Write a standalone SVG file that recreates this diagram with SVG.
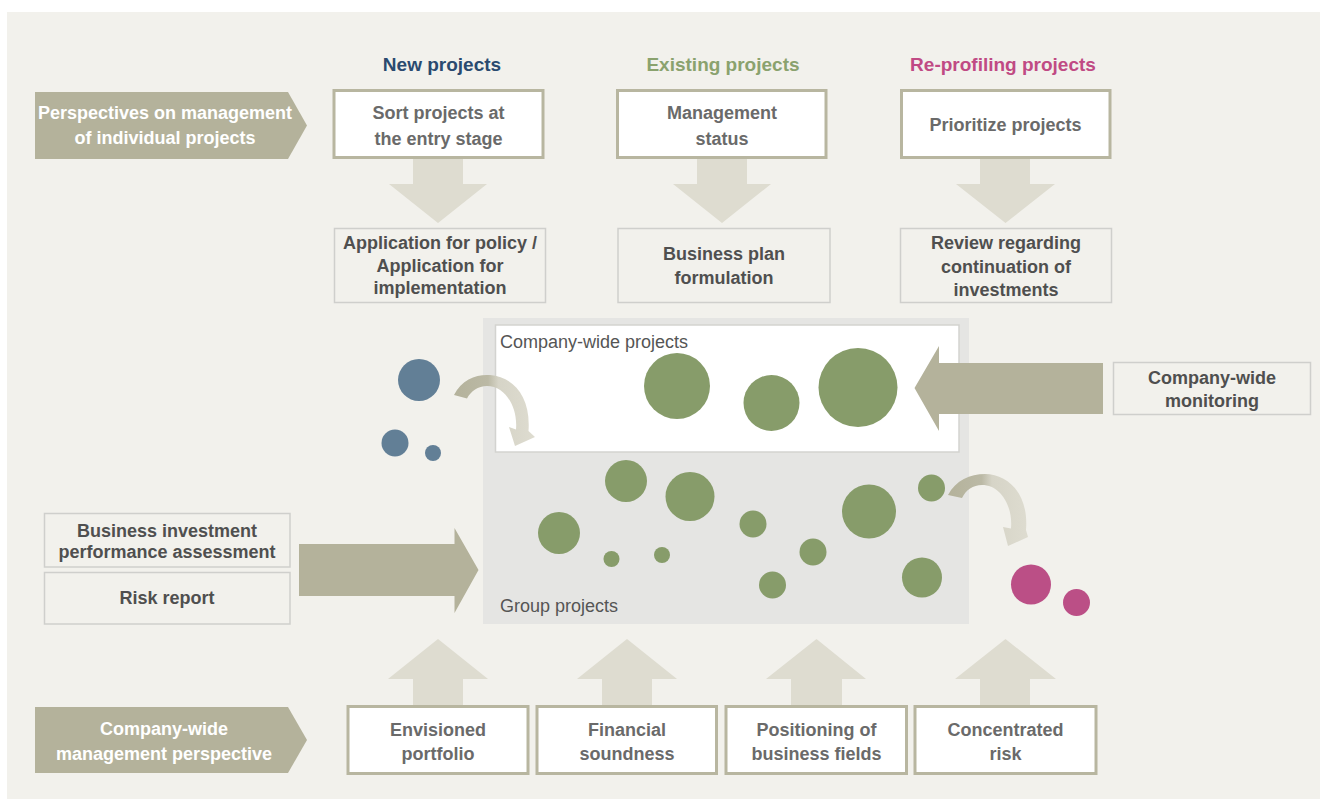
<svg xmlns="http://www.w3.org/2000/svg" width="1320" height="799" viewBox="0 0 1320 799">
<style>
text{font-family:"Liberation Sans",Arial,sans-serif;font-size:18px;font-weight:bold;text-anchor:middle}
.hd{font-size:19px}
.bn{fill:#ffffff}
.tk{fill:#6a6a6a}
.tn{fill:#4f4f4f}
.rg{font-weight:normal;text-anchor:start;fill:#555555}
.thick{fill:#ffffff;stroke:#b8b6a0;stroke-width:3}
.thin{fill:none;stroke:#cfcfcc;stroke-width:1.5}
.banner{fill:#b4b29b}
.la{fill:#dedcd0}
.da{fill:#b4b29b}
.cv{fill:url(#cg)}
.g{fill:#879c6a}
.b{fill:#627f96}
.m{fill:#bb4f86}
</style>
<defs>
<linearGradient id="cg" x1="0" y1="0" x2="1" y2="0">
<stop offset="0" stop-color="#b4b29b"/>
<stop offset="0.42" stop-color="#bbb9a5"/>
<stop offset="0.55" stop-color="#d6d4c7"/>
<stop offset="1" stop-color="#dedcd0"/>
</linearGradient>
</defs>
<rect x="0" y="0" width="1320" height="799" fill="#ffffff"/>
<rect x="7" y="12" width="1313" height="787" fill="#f2f1ec"/>

<!-- panel -->
<g id="group-panel">
<rect x="483" y="318" width="486" height="306" fill="#e5e5e3"/>
<text class="rg" x="500" y="612">Group projects</text>
</g>
<g id="company-panel">
<rect x="495.5" y="325" width="463.5" height="127" fill="#ffffff" stroke="#d3d3d0" stroke-width="1.5"/>
<text class="rg" x="500" y="348">Company-wide projects</text>
</g>

<!-- connectors -->
<g id="connectors">
<polygon class="la" points="413,159 463,159 463,184 487,184 438,223 389,184 413,184"/>
<polygon class="la" points="697,159 747,159 747,184 771,184 722,223 673,184 697,184"/>
<polygon class="la" points="980,159 1030,159 1030,184 1055,184 1005.5,223 956,184 980,184"/>
<polygon class="la" points="413,705 413,679 388,679 438,639 488,679 463,679 463,705"/>
<polygon class="la" points="602,705 602,679 577,679 627,639 677,679 652,679 652,705"/>
<polygon class="la" points="791,705 791,679 766,679 816.5,639 866,679 842,679 842,705"/>
<polygon class="la" points="980,705 980,679 955,679 1005.5,639 1056,679 1030,679 1030,705"/>
<polygon class="da" points="299,544 454.5,544 454.5,528 478.5,570 454.5,613 454.5,596 299,596"/>
<polygon class="da" points="1103,363 939,363 939,346 914.5,388 939,431 939,414 1103,414"/>
<path class="cv" d="M 454 395 C 462 379, 477 374, 490 375 C 513 377, 531 396, 528.5 431 L 535 437 L 515 446 L 509 427 L 516 429.5 C 518 407, 505 386, 487 386 C 478 386, 471 391, 467 398.5 Z"/>
<path class="cv" d="M 948 495 C 956 480, 970 474, 985 474 C 1008 474, 1029 494, 1026 530 L 1028 537 L 1008 546 L 1003 527 L 1011 528.5 C 1013 505, 1000 485, 982 485 C 973 485, 966 490, 962 498 Z"/>
</g>

<!-- circles -->
<g id="blue-projects">
<circle class="b" cx="419" cy="380" r="21"/>
<circle class="b" cx="395" cy="443" r="13.5"/>
<circle class="b" cx="433" cy="453" r="8"/>
</g>
<g id="company-circles">
<circle class="g" cx="677" cy="386" r="33"/>
<circle class="g" cx="771.5" cy="403" r="28"/>
<circle class="g" cx="858" cy="387.5" r="39.5"/>
</g>
<g id="group-circles">
<circle class="g" cx="626" cy="481" r="21"/>
<circle class="g" cx="559" cy="533" r="21"/>
<circle class="g" cx="611.5" cy="559" r="8"/>
<circle class="g" cx="662" cy="555" r="8"/>
<circle class="g" cx="690" cy="496.5" r="24.5"/>
<circle class="g" cx="753" cy="524" r="13.5"/>
<circle class="g" cx="869" cy="511.5" r="27"/>
<circle class="g" cx="931.5" cy="488" r="13.5"/>
<circle class="g" cx="813" cy="552" r="13.5"/>
<circle class="g" cx="772.5" cy="585" r="13.5"/>
<circle class="g" cx="922" cy="577.5" r="20"/>
</g>
<g id="reprofiling-circles">
<circle class="m" cx="1031" cy="584.5" r="20"/>
<circle class="m" cx="1076.5" cy="602.5" r="13.5"/>
</g>

<!-- headers -->
<g id="hdr-new"><text class="hd" x="442" y="71" fill="#2a4a6f">New projects</text></g>
<g id="hdr-existing"><text class="hd" x="723" y="71" fill="#8aa26e">Existing projects</text></g>
<g id="hdr-reprofiling"><text class="hd" x="1003" y="71" fill="#c04a84">Re-profiling projects</text></g>

<!-- banners -->
<g id="banner-individual">
<polygon class="banner" points="35,92 288,92 307,125.5 288,159 35,159"/>
<text class="bn" x="165" y="119">Perspectives on management</text>
<text class="bn" x="165" y="144">of individual projects</text>
</g>
<g id="banner-companywide">
<polygon class="banner" points="35,707 288,707 307,740 288,773 35,773"/>
<text class="bn" x="164" y="735">Company-wide</text>
<text class="bn" x="164" y="760">management perspective</text>
</g>

<!-- top boxes -->
<g id="sort-projects">
<rect class="thick" x="334" y="90.5" width="209" height="67"/>
<text class="tk" x="438.5" y="119">Sort projects at</text>
<text class="tk" x="438.5" y="145">the entry stage</text>
</g>
<g id="management-status">
<rect class="thick" x="617.5" y="90.5" width="208.5" height="67"/>
<text class="tk" x="722" y="119">Management</text>
<text class="tk" x="722" y="145">status</text>
</g>
<g id="prioritize-projects">
<rect class="thick" x="901.5" y="90.5" width="208.5" height="67"/>
<text class="tk" x="1005.5" y="131">Prioritize projects</text>
</g>

<!-- second row -->
<g id="application">
<rect class="thin" x="334.5" y="228.5" width="211" height="74"/>
<text class="tn" x="440" y="249">Application for policy /</text>
<text class="tn" x="440" y="272">Application for</text>
<text class="tn" x="440" y="294">implementation</text>
</g>
<g id="business-plan">
<rect class="thin" x="618" y="228.5" width="212" height="74"/>
<text class="tn" x="724" y="260">Business plan</text>
<text class="tn" x="724" y="284">formulation</text>
</g>
<g id="review">
<rect class="thin" x="900.5" y="228.5" width="211" height="74"/>
<text class="tn" x="1006" y="249">Review regarding</text>
<text class="tn" x="1006" y="273">continuation of</text>
<text class="tn" x="1006" y="296">investments</text>
</g>

<!-- side boxes -->
<g id="monitoring">
<rect class="thin" x="1113.5" y="362.5" width="197" height="52"/>
<text class="tn" x="1212" y="384">Company-wide</text>
<text class="tn" x="1212" y="407">monitoring</text>
</g>
<g id="assessment">
<rect class="thin" x="44.5" y="513.5" width="245.5" height="53.5"/>
<text class="tn" x="167" y="537">Business investment</text>
<text class="tn" x="167" y="558">performance assessment</text>
</g>
<g id="risk-report">
<rect class="thin" x="44.5" y="572.5" width="245.5" height="51.5"/>
<text class="tn" x="167" y="604">Risk report</text>
</g>

<!-- bottom boxes -->
<g id="envisioned-portfolio">
<rect class="thick" x="348" y="706.5" width="180" height="67"/>
<text class="tk" x="438" y="736">Envisioned</text>
<text class="tk" x="438" y="760">portfolio</text>
</g>
<g id="financial-soundness">
<rect class="thick" x="537" y="706.5" width="179.5" height="67"/>
<text class="tk" x="627" y="736">Financial</text>
<text class="tk" x="627" y="760">soundness</text>
</g>
<g id="positioning">
<rect class="thick" x="726" y="706.5" width="180.5" height="67"/>
<text class="tk" x="816.5" y="736">Positioning of</text>
<text class="tk" x="816.5" y="760">business fields</text>
</g>
<g id="concentrated-risk">
<rect class="thick" x="915" y="706.5" width="181" height="67"/>
<text class="tk" x="1005.5" y="736">Concentrated</text>
<text class="tk" x="1005.5" y="760">risk</text>
</g>
</svg>
